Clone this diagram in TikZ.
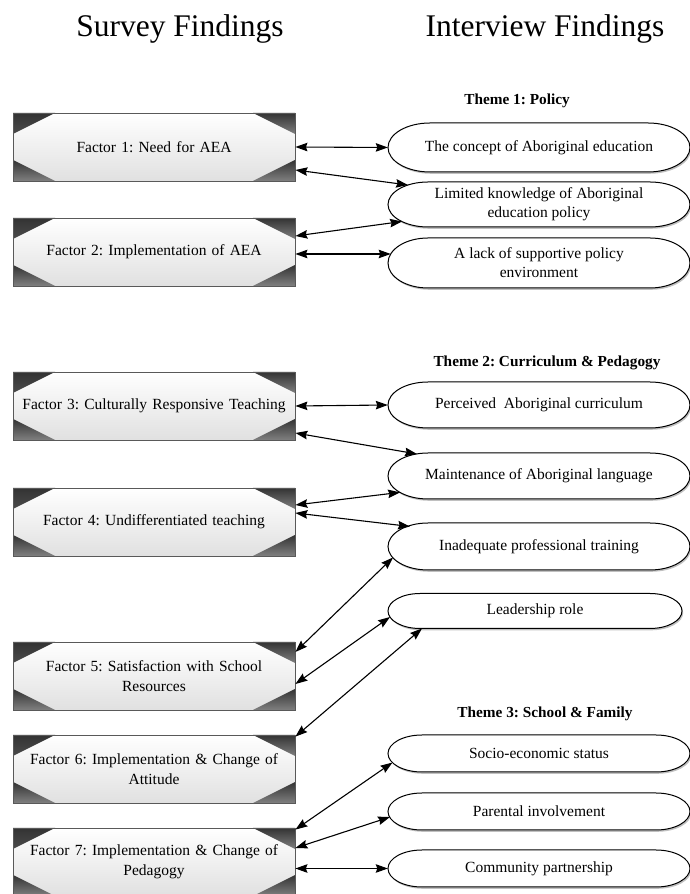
\documentclass[tikz,border=0pt]{standalone}
\usepackage{fontspec}
\setmainfont{Liberation Serif}
\frenchspacing
\usetikzlibrary{arrows.meta,calc}

% Oval for an interview finding: name, cx, cy, half width, half height, cap radius, text
\newcommand{\interviewoval}[7]{%
  \fill[ovalshadow] (#2-#4+#6+1.2, #3+#5-1.8) -- (#2+#4-#6+1.2, #3+#5-1.8)
    arc[start angle=90, end angle=-90, x radius=#6, y radius=#5]
    -- (#2-#4+#6+1.2, #3-#5-1.8)
    arc[start angle=270, end angle=90, x radius=#6, y radius=#5] -- cycle;
  \draw[ovalline] (#2-#4+#6, #3+#5) -- (#2+#4-#6, #3+#5)
    arc[start angle=90, end angle=-90, x radius=#6, y radius=#5]
    -- (#2-#4+#6, #3-#5)
    arc[start angle=270, end angle=90, x radius=#6, y radius=#5] -- cycle;
  \node[ovaltext, minimum width=2*#4, minimum height=2*#5] (#1) at (#2,#3) {#7};
}

\tikzset{
  cornershade/.style={top color=black!80, bottom color=black!50},
  factorbox/.style={rectangle, inner sep=0pt, minimum width=282pt, minimum height=68pt,
    text width=272pt, align=center, font=\fontsize{15.5}{20}\selectfont,
    draw=black!65, line width=0.8pt, top color=white, bottom color=black!12,
    path picture={
      \shade[cornershade] (path picture bounding box.north west) -- ++(42,0) -- ++(-42,-21) -- cycle;
      \shade[cornershade] (path picture bounding box.north east) -- ++(-42,0) -- ++(42,-21) -- cycle;
      \shade[cornershade] (path picture bounding box.south west) -- ++(42,0) -- ++(-42,21) -- cycle;
      \shade[cornershade] (path picture bounding box.south east) -- ++(-42,0) -- ++(42,21) -- cycle;
    }},
  ovalline/.style={draw=black, line width=1pt, fill=white},
  ovalshadow/.style={fill=black!45, opacity=0.55},
  ovaltext/.style={rectangle, inner sep=0pt, align=center, font=\fontsize{15.5}{19}\selectfont},
  heading/.style={anchor=base, font=\fontsize{31.5}{36}\selectfont},
  theme/.style={anchor=base, font=\fontsize{15.3}{18}\selectfont\bfseries},
  link/.style={{Stealth[length=12pt,width=8.5pt,inset=1.5pt]}-{Stealth[length=12pt,width=8.5pt,inset=1.5pt]}, line width=1.1pt, black},
}

\begin{document}
\begin{tikzpicture}[x=1pt, y=1pt]
\useasboundingbox (0,0) rectangle (690,894);

% column headings
\node[heading] (survey) at (180,857) {Survey Findings};
\node[heading] (interview) at (545,857) {Interview Findings};

% survey factors
\node[factorbox] (b1) at (154,747) {Factor 1: Need for AEA};
\node[factorbox] (b2) at (154,642) {Factor 2: Implementation of AEA};
\node[factorbox] (b3) at (154,488) {Factor 3: Culturally Responsive Teaching};
\node[factorbox] (b4) at (154,372) {Factor 4: Undifferentiated teaching};
\node[factorbox] (b5) at (154,218) {Factor 5: Satisfaction with School\\Resources};
\node[factorbox] (b6) at (154,125) {Factor 6: Implementation \& Change of\\Attitude};
\node[factorbox] (b7) at (154,32) {Factor 7: Implementation \& Change of\\Pedagogy};

% themes
\node[theme] (t1) at (517,789) {Theme 1: Policy};
\node[theme] (t2) at (547,527) {Theme 2: Curriculum \& Pedagogy};
\node[theme] (t3) at (545,176) {Theme 3: School \& Family};

% interview findings
\interviewoval{e1}{539}{746.5}{151}{24.5}{42}{The concept of Aboriginal education}
\interviewoval{e2}{539}{689.5}{151}{22.5}{40}{Limited knowledge of Aboriginal\\education policy}
\interviewoval{e3}{539}{631}{151}{25}{40}{A lack of supportive policy\\environment}
\interviewoval{e4}{539}{489}{151}{23}{40}{Perceived\ \ Aboriginal curriculum}
\interviewoval{e5}{539}{418}{151}{23}{40}{Maintenance of Aboriginal language}
\interviewoval{e6}{539}{347.5}{151}{23.5}{40}{Inadequate professional training}
\interviewoval{e7}{535}{283}{147}{17.5}{32}{Leadership role}
\interviewoval{e8}{539}{140.5}{151}{18.5}{34}{Socio-economic status}
\interviewoval{e9}{539}{82.5}{151}{18.5}{34}{Parental involvement}
\interviewoval{e10}{539}{25.5}{151}{18.5}{34}{Community partnership}

% links between factors and findings
\draw[link] (b1.east) -- (e1.west);
\draw[link] ($(b1.east)+(0,-23)$) -- ($(e2.center)+(-131,19.5)$);
\draw[link] ($(b2.east)+(0,16)$) -- ($(e2.center)+(-137,-17)$);
\draw[link] ($(b2.east)+(0,-2)$) -- ($(e3.center)+(-148.3,9)$);
\draw[link] (b3.east) -- (e4.west);
\draw[link] ($(b3.east)+(0,-27)$) -- ($(e5.center)+(-122,22)$);
\draw[link] ($(b4.east)+(0,17)$) -- ($(e5.center)+(-139,-16.4)$);
\draw[link] ($(b4.east)+(0,9)$) -- ($(e6.center)+(-129,20)$);
\draw[link] ($(e6.center)+(-146,-11)$) -- ($(b5.east)+(0,24)$);
\draw[link] ($(e7.center)+(-145,-6)$) -- ($(b5.east)+(0,-8)$);
\draw[link] ($(e7.center)+(-113,-17.5)$) -- ($(b6.north east)+(0,-2)$);
\draw[link] ($(e8.center)+(-146.5,-9)$) -- ($(b7.north east)+(0,-2)$);
\draw[link] ($(e9.center)+(-149,-5.5)$) -- ($(b7.east)+(0,14)$);
\draw[link] ($(b7.east)+(0,-6.5)$) -- (e10.west);
\end{tikzpicture}
\end{document}
